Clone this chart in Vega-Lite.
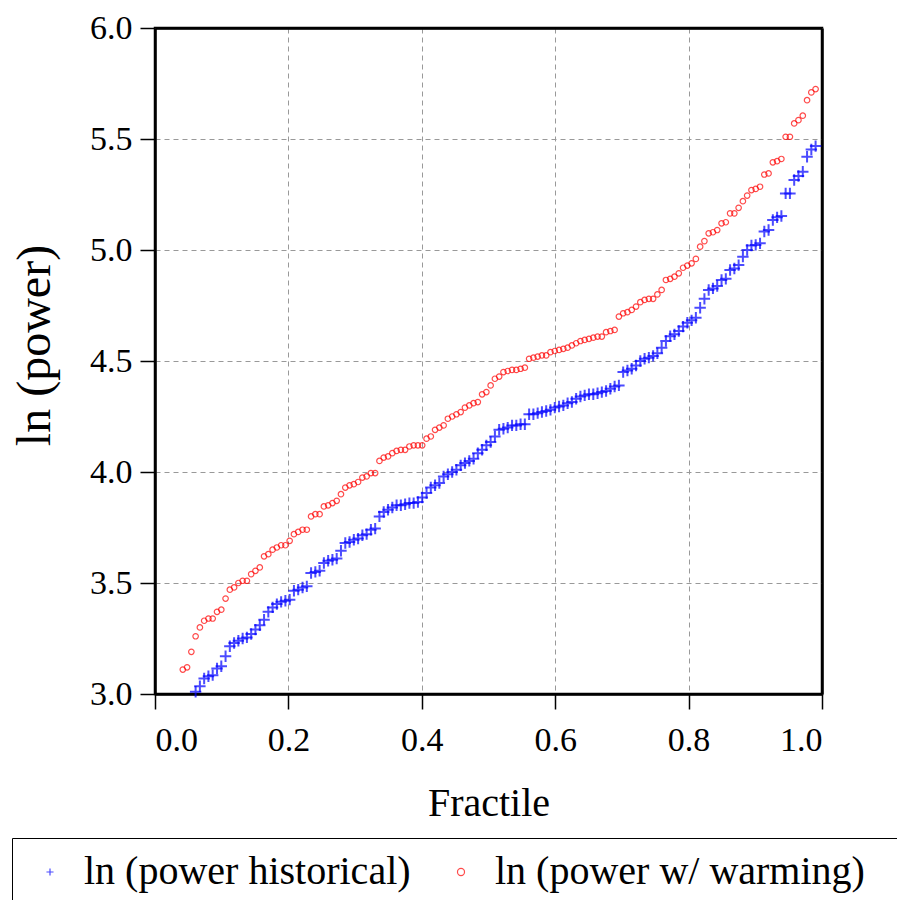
{
"$schema": "https://vega.github.io/schema/vega-lite/v6.json",
"width": 667, "height": 666,
"autosize": {"type": "none"},
"padding": {"left": 155, "top": 28, "right": 75, "bottom": 206},
"config": {
 "font": "Liberation Serif",
 "view": {"stroke": "black", "strokeWidth": 2.5},
 "axis": {"domainColor": "black", "domainWidth": 2.5, "tickColor": "black", "tickSize": 15, "tickWidth": 1.5, "grid": true, "gridColor": "#999999", "gridDash": [5, 4], "gridWidth": 1, "labelFontSize": 34, "labelColor": "black", "titleFontSize": 40, "titleFontWeight": "normal", "titleColor": "black", "labelPadding": 8}
},
"datasets": {
 "h": [
{"f":0.0609,"v":3.01},{"f":0.0673,"v":3.035},{"f":0.0737,"v":3.07},{"f":0.0801,"v":3.08},{"f":0.0865,"v":3.085},{"f":0.0930,"v":3.115},{"f":0.0994,"v":3.125},{"f":0.1058,"v":3.17},{"f":0.1122,"v":3.215},{"f":0.1186,"v":3.23},
{"f":0.1250,"v":3.24},{"f":0.1314,"v":3.25},{"f":0.1378,"v":3.255},{"f":0.1442,"v":3.27},{"f":0.1506,"v":3.29},{"f":0.1571,"v":3.31},{"f":0.1635,"v":3.335},{"f":0.1699,"v":3.37},{"f":0.1763,"v":3.39},{"f":0.1827,"v":3.405},
{"f":0.1891,"v":3.415},{"f":0.1955,"v":3.42},{"f":0.2019,"v":3.425},{"f":0.2083,"v":3.465},{"f":0.2147,"v":3.47},{"f":0.2212,"v":3.48},{"f":0.2276,"v":3.485},{"f":0.2340,"v":3.545},{"f":0.2404,"v":3.55},{"f":0.2468,"v":3.555},
{"f":0.2532,"v":3.59},{"f":0.2596,"v":3.60},{"f":0.2660,"v":3.605},{"f":0.2724,"v":3.61},{"f":0.2788,"v":3.645},{"f":0.2853,"v":3.68},{"f":0.2917,"v":3.685},{"f":0.2981,"v":3.695},{"f":0.3045,"v":3.70},{"f":0.3109,"v":3.715},
{"f":0.3173,"v":3.72},{"f":0.3237,"v":3.74},{"f":0.3301,"v":3.745},{"f":0.3365,"v":3.80},{"f":0.3429,"v":3.82},{"f":0.3494,"v":3.83},{"f":0.3558,"v":3.84},{"f":0.3622,"v":3.85},{"f":0.3686,"v":3.85},{"f":0.3750,"v":3.855},
{"f":0.3814,"v":3.86},{"f":0.3878,"v":3.86},{"f":0.3942,"v":3.865},{"f":0.4006,"v":3.885},{"f":0.4071,"v":3.905},{"f":0.4135,"v":3.93},{"f":0.4199,"v":3.94},{"f":0.4263,"v":3.95},{"f":0.4327,"v":3.98},{"f":0.4391,"v":3.99},
{"f":0.4455,"v":4.00},{"f":0.4519,"v":4.01},{"f":0.4583,"v":4.03},{"f":0.4647,"v":4.04},{"f":0.4712,"v":4.05},{"f":0.4776,"v":4.06},{"f":0.4840,"v":4.085},{"f":0.4904,"v":4.10},{"f":0.4968,"v":4.12},{"f":0.5032,"v":4.135},
{"f":0.5096,"v":4.16},{"f":0.5160,"v":4.19},{"f":0.5224,"v":4.195},{"f":0.5288,"v":4.20},{"f":0.5353,"v":4.21},{"f":0.5417,"v":4.21},{"f":0.5481,"v":4.215},{"f":0.5545,"v":4.215},{"f":0.5609,"v":4.26},{"f":0.5673,"v":4.26},
{"f":0.5737,"v":4.265},{"f":0.5801,"v":4.27},{"f":0.5865,"v":4.275},{"f":0.5929,"v":4.28},{"f":0.5994,"v":4.29},{"f":0.6058,"v":4.295},{"f":0.6122,"v":4.30},{"f":0.6186,"v":4.31},{"f":0.6250,"v":4.315},{"f":0.6314,"v":4.33},
{"f":0.6378,"v":4.34},{"f":0.6442,"v":4.345},{"f":0.6506,"v":4.35},{"f":0.6571,"v":4.35},{"f":0.6635,"v":4.355},{"f":0.6699,"v":4.36},{"f":0.6763,"v":4.365},{"f":0.6827,"v":4.375},{"f":0.6891,"v":4.385},{"f":0.6955,"v":4.39},
{"f":0.7019,"v":4.45},{"f":0.7083,"v":4.457},{"f":0.7147,"v":4.465},{"f":0.7212,"v":4.48},{"f":0.7276,"v":4.50},{"f":0.7340,"v":4.51},{"f":0.7404,"v":4.515},{"f":0.7468,"v":4.523},{"f":0.7532,"v":4.535},{"f":0.7596,"v":4.56},
{"f":0.7660,"v":4.59},{"f":0.7724,"v":4.612},{"f":0.7788,"v":4.62},{"f":0.7853,"v":4.635},{"f":0.7917,"v":4.655},{"f":0.7981,"v":4.672},{"f":0.8045,"v":4.683},{"f":0.8109,"v":4.695},{"f":0.8173,"v":4.74},{"f":0.8237,"v":4.78},
{"f":0.8301,"v":4.82},{"f":0.8365,"v":4.827},{"f":0.8429,"v":4.838},{"f":0.8494,"v":4.865},{"f":0.8558,"v":4.87},{"f":0.8622,"v":4.91},{"f":0.8686,"v":4.917},{"f":0.8750,"v":4.932},{"f":0.8814,"v":4.97},{"f":0.8878,"v":5.0},
{"f":0.8942,"v":5.02},{"f":0.9006,"v":5.023},{"f":0.9071,"v":5.03},{"f":0.9135,"v":5.083},{"f":0.9199,"v":5.09},{"f":0.9263,"v":5.135},{"f":0.9327,"v":5.147},{"f":0.9391,"v":5.153},{"f":0.9455,"v":5.255},{"f":0.9519,"v":5.255},
{"f":0.9583,"v":5.315},{"f":0.9647,"v":5.333},{"f":0.9712,"v":5.353},{"f":0.9776,"v":5.42},{"f":0.9840,"v":5.453},{"f":0.9904,"v":5.468}
 ],
 "w": [
{"f":0.0417,"v":3.11},{"f":0.0481,"v":3.12},{"f":0.0545,"v":3.19},{"f":0.0609,"v":3.26},{"f":0.0673,"v":3.30},{"f":0.0737,"v":3.33},{"f":0.0801,"v":3.34},{"f":0.0865,"v":3.34},{"f":0.0930,"v":3.37},{"f":0.0994,"v":3.38},
{"f":0.1058,"v":3.43},{"f":0.1122,"v":3.47},{"f":0.1186,"v":3.48},{"f":0.1250,"v":3.50},{"f":0.1314,"v":3.51},{"f":0.1378,"v":3.51},{"f":0.1442,"v":3.54},{"f":0.1506,"v":3.555},{"f":0.1571,"v":3.57},{"f":0.1635,"v":3.62},
{"f":0.1699,"v":3.63},{"f":0.1763,"v":3.65},{"f":0.1827,"v":3.66},{"f":0.1891,"v":3.67},{"f":0.1955,"v":3.67},{"f":0.2019,"v":3.69},{"f":0.2083,"v":3.72},{"f":0.2147,"v":3.73},{"f":0.2212,"v":3.74},{"f":0.2276,"v":3.74},
{"f":0.2340,"v":3.80},{"f":0.2404,"v":3.81},{"f":0.2468,"v":3.81},{"f":0.2532,"v":3.845},{"f":0.2596,"v":3.85},{"f":0.2660,"v":3.86},{"f":0.2724,"v":3.87},{"f":0.2788,"v":3.90},{"f":0.2853,"v":3.93},{"f":0.2917,"v":3.94},
{"f":0.2981,"v":3.945},{"f":0.3045,"v":3.955},{"f":0.3109,"v":3.975},{"f":0.3173,"v":3.98},{"f":0.3237,"v":3.995},{"f":0.3301,"v":3.995},{"f":0.3365,"v":4.05},{"f":0.3429,"v":4.065},{"f":0.3494,"v":4.07},{"f":0.3558,"v":4.085},
{"f":0.3622,"v":4.095},{"f":0.3686,"v":4.10},{"f":0.3750,"v":4.10},{"f":0.3814,"v":4.115},{"f":0.3878,"v":4.12},{"f":0.3942,"v":4.12},{"f":0.4006,"v":4.12},{"f":0.4071,"v":4.15},{"f":0.4135,"v":4.16},{"f":0.4199,"v":4.19},
{"f":0.4263,"v":4.20},{"f":0.4327,"v":4.21},{"f":0.4391,"v":4.24},{"f":0.4455,"v":4.25},{"f":0.4519,"v":4.26},{"f":0.4583,"v":4.27},{"f":0.4647,"v":4.29},{"f":0.4712,"v":4.30},{"f":0.4776,"v":4.31},{"f":0.4840,"v":4.315},
{"f":0.4904,"v":4.35},{"f":0.4968,"v":4.36},{"f":0.5032,"v":4.39},{"f":0.5096,"v":4.42},{"f":0.5160,"v":4.43},{"f":0.5224,"v":4.45},{"f":0.5288,"v":4.455},{"f":0.5353,"v":4.46},{"f":0.5417,"v":4.46},{"f":0.5481,"v":4.465},
{"f":0.5545,"v":4.47},{"f":0.5609,"v":4.51},{"f":0.5673,"v":4.515},{"f":0.5737,"v":4.52},{"f":0.5801,"v":4.525},{"f":0.5865,"v":4.525},{"f":0.5929,"v":4.54},{"f":0.5994,"v":4.545},{"f":0.6058,"v":4.55},{"f":0.6122,"v":4.555},
{"f":0.6186,"v":4.56},{"f":0.6250,"v":4.57},{"f":0.6314,"v":4.58},{"f":0.6378,"v":4.59},{"f":0.6442,"v":4.595},{"f":0.6506,"v":4.60},{"f":0.6571,"v":4.605},{"f":0.6635,"v":4.61},{"f":0.6699,"v":4.61},{"f":0.6763,"v":4.63},
{"f":0.6827,"v":4.635},{"f":0.6891,"v":4.64},{"f":0.6955,"v":4.70},{"f":0.7019,"v":4.715},{"f":0.7083,"v":4.72},{"f":0.7147,"v":4.73},{"f":0.7212,"v":4.745},{"f":0.7276,"v":4.765},{"f":0.7340,"v":4.775},{"f":0.7404,"v":4.78},
{"f":0.7468,"v":4.78},{"f":0.7532,"v":4.80},{"f":0.7596,"v":4.82},{"f":0.7660,"v":4.865},{"f":0.7724,"v":4.87},{"f":0.7788,"v":4.88},{"f":0.7853,"v":4.895},{"f":0.7917,"v":4.92},{"f":0.7981,"v":4.93},{"f":0.8045,"v":4.94},
{"f":0.8109,"v":4.96},{"f":0.8173,"v":5.015},{"f":0.8237,"v":5.04},{"f":0.8301,"v":5.075},{"f":0.8365,"v":5.08},{"f":0.8429,"v":5.09},{"f":0.8494,"v":5.12},{"f":0.8558,"v":5.125},{"f":0.8622,"v":5.165},{"f":0.8686,"v":5.165},
{"f":0.8750,"v":5.19},{"f":0.8814,"v":5.22},{"f":0.8878,"v":5.245},{"f":0.8942,"v":5.27},{"f":0.9006,"v":5.275},{"f":0.9071,"v":5.285},{"f":0.9135,"v":5.34},{"f":0.9199,"v":5.345},{"f":0.9263,"v":5.395},{"f":0.9327,"v":5.40},
{"f":0.9391,"v":5.41},{"f":0.9455,"v":5.51},{"f":0.9519,"v":5.51},{"f":0.9583,"v":5.57},{"f":0.9647,"v":5.585},{"f":0.9712,"v":5.605},{"f":0.9776,"v":5.675},{"f":0.9840,"v":5.71},{"f":0.9904,"v":5.725}
 ]
},
"resolve": {"axis": {"x": "independent", "y": "independent"}},
"layer": [
 {"data": {"name": "h"}, "transform": [{"calculate": "'ln (power historical)'", "as": "s"}],
  "mark": {"type": "point", "filled": false, "strokeWidth": 2, "size": 130},
  "encoding": {
   "x": {"field": "f", "type": "quantitative", "scale": {"domain": [0, 1]}, "axis": {"title": "Fractile", "values": [0, 0.2, 0.4, 0.6, 0.8, 1], "format": ".1f", "labelPadding": 14, "titlePadding": 26}},
   "y": {"field": "v", "type": "quantitative", "scale": {"domain": [3, 6]}, "axis": {"title": "ln (power)", "values": [3, 3.5, 4, 4.5, 5, 5.5, 6], "format": ".1f", "titlePadding": 30, "titleFontSize": 48, "titleY": 317}},
   "color": {"field": "s", "type": "nominal", "scale": {"domain": ["ln (power historical)", "ln (power w/ warming)"], "range": ["#0000ff", "#ff0000"]},
     "legend": {"orient": "none", "legendX": -143, "legendY": 810, "direction": "horizontal", "title": ".", "titleOrient": "right", "titleOpacity": 0, "titleFontSize": 10, "titlePadding": 24, "strokeColor": "black", "padding": 14, "symbolOffset": 4, "labelFontSize": 40, "labelColor": "black", "labelOffset": 14, "columnPadding": 26, "symbolStrokeWidth": 1.2, "labelLimit": 0, "symbolSize": 50}},
   "shape": {"field": "s", "type": "nominal", "scale": {"domain": ["ln (power historical)", "ln (power w/ warming)"], "range": ["M-1,0L1,0M0,-1L0,1", "circle"]}}
  }},
 {"data": {"name": "w"}, "transform": [{"calculate": "'ln (power w/ warming)'", "as": "s"}],
  "mark": {"type": "point", "filled": false, "strokeWidth": 1.2, "size": 30},
  "encoding": {
   "x": {"field": "f", "type": "quantitative", "axis": {"orient": "top", "labels": false, "ticks": false, "grid": false, "title": null, "domainWidth": 2.5}},
   "y": {"field": "v", "type": "quantitative", "axis": {"orient": "right", "labels": false, "ticks": false, "grid": false, "title": null, "domainWidth": 2.5}},
   "color": {"field": "s", "type": "nominal"},
   "shape": {"field": "s", "type": "nominal"}
  }}
]
}
